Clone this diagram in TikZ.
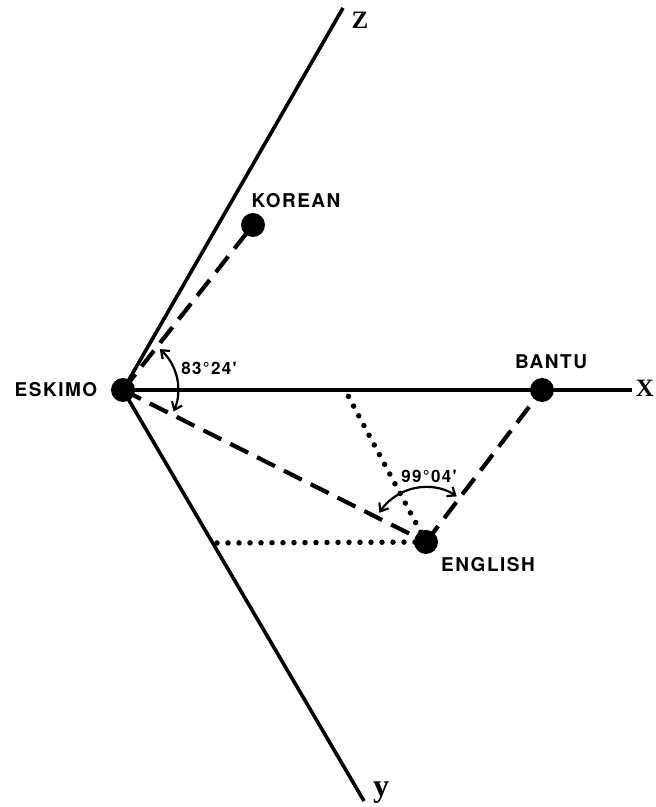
\documentclass[tikz,border=0pt]{standalone}
\usepackage{fontspec}
\setmainfont{TeX Gyre Heros}
\newfontfamily\lblfont[LetterSpace=8]{TeX Gyre Heros}
\newfontfamily\axfont{Liberation Serif}
\usetikzlibrary{arrows.meta,calc}
\tikzset{
  pt/.style={circle,fill=black,inner sep=0pt,minimum size=24pt},
  axis/.style={line width=3.6pt},
  dashline/.style={line width=4.2pt,dash pattern=on 20pt off 10pt},
  dotline/.style={line width=5.5pt,line cap=round,dash pattern=on 0pt off 11pt},
  lbl/.style={font=\lblfont\bfseries\fontsize{19}{19}\selectfont,inner sep=0pt},
  anglbl/.style={font=\lblfont\bfseries\fontsize{17}{17}\selectfont,inner sep=0pt},
  axlbl/.style={font=\axfont\bfseries\fontsize{25}{25}\selectfont,inner sep=0pt},
  angarc/.style={line width=2.2pt,{Straight Barb[length=7pt,width=11pt]}-{Straight Barb[length=7pt,width=11pt]}}
}
\begin{document}
\begin{tikzpicture}[x=1pt,y=1pt]
\useasboundingbox (0,0) rectangle (656,807);
% points
\coordinate (E) at (123,417);
\coordinate (K) at (253,582);
\coordinate (B) at (542,417);
\coordinate (G) at (426,265);
\coordinate (Zend) at (343,799);
\coordinate (Yend) at (364,6);
\coordinate (Xend) at (632,417);
\coordinate (Hd) at (215,264);
\coordinate (Xd) at (345,417);
% axes
\draw[axis] (E) -- (Zend);
\draw[axis] (E) -- (Yend);
\draw[axis] (E) -- (Xend);
% dotted projections
\draw[dotline] (G) -- (Hd);
\draw[dotline] (G) -- (Xd);
% dashed connectors
\draw[dashline] (E) -- (K);
\draw[dashline] (E) -- (G);
\draw[dashline] (G) -- (B);
% angle arcs
\draw[angarc] ($(E)+(-23:55)$) arc[start angle=-23,end angle=48,radius=55];
\draw[angarc] ($(G)+(56:55)$) arc[start angle=56,end angle=148,radius=55];
% dots
\node[pt] (eskimo) at (E) {};
\node[pt] (korean) at (K) {};
\node[pt] (bantu) at (B) {};
\node[pt] (english) at (G) {};
% labels
\node[lbl] (lk) at (296,606) {KOREAN};
\node[lbl] (lb) at (551,445) {BANTU};
\node[lbl] (le) at (56,417) {ESKIMO};
\node[lbl] (lg) at (488,242) {ENGLISH};
\node[anglbl] (a1) at (209,439) {83°24'};
\node[anglbl] (a2) at (429,331) {99°04'};
\node[axlbl] (lz) at (360,787) {Z};
\node[axlbl,font=\axfont\bfseries\fontsize{32}{32}\selectfont,anchor=base] (ly) at (381,10) {y};
\node[axlbl] (lx) at (645,419) {X};
\end{tikzpicture}
\end{document}
